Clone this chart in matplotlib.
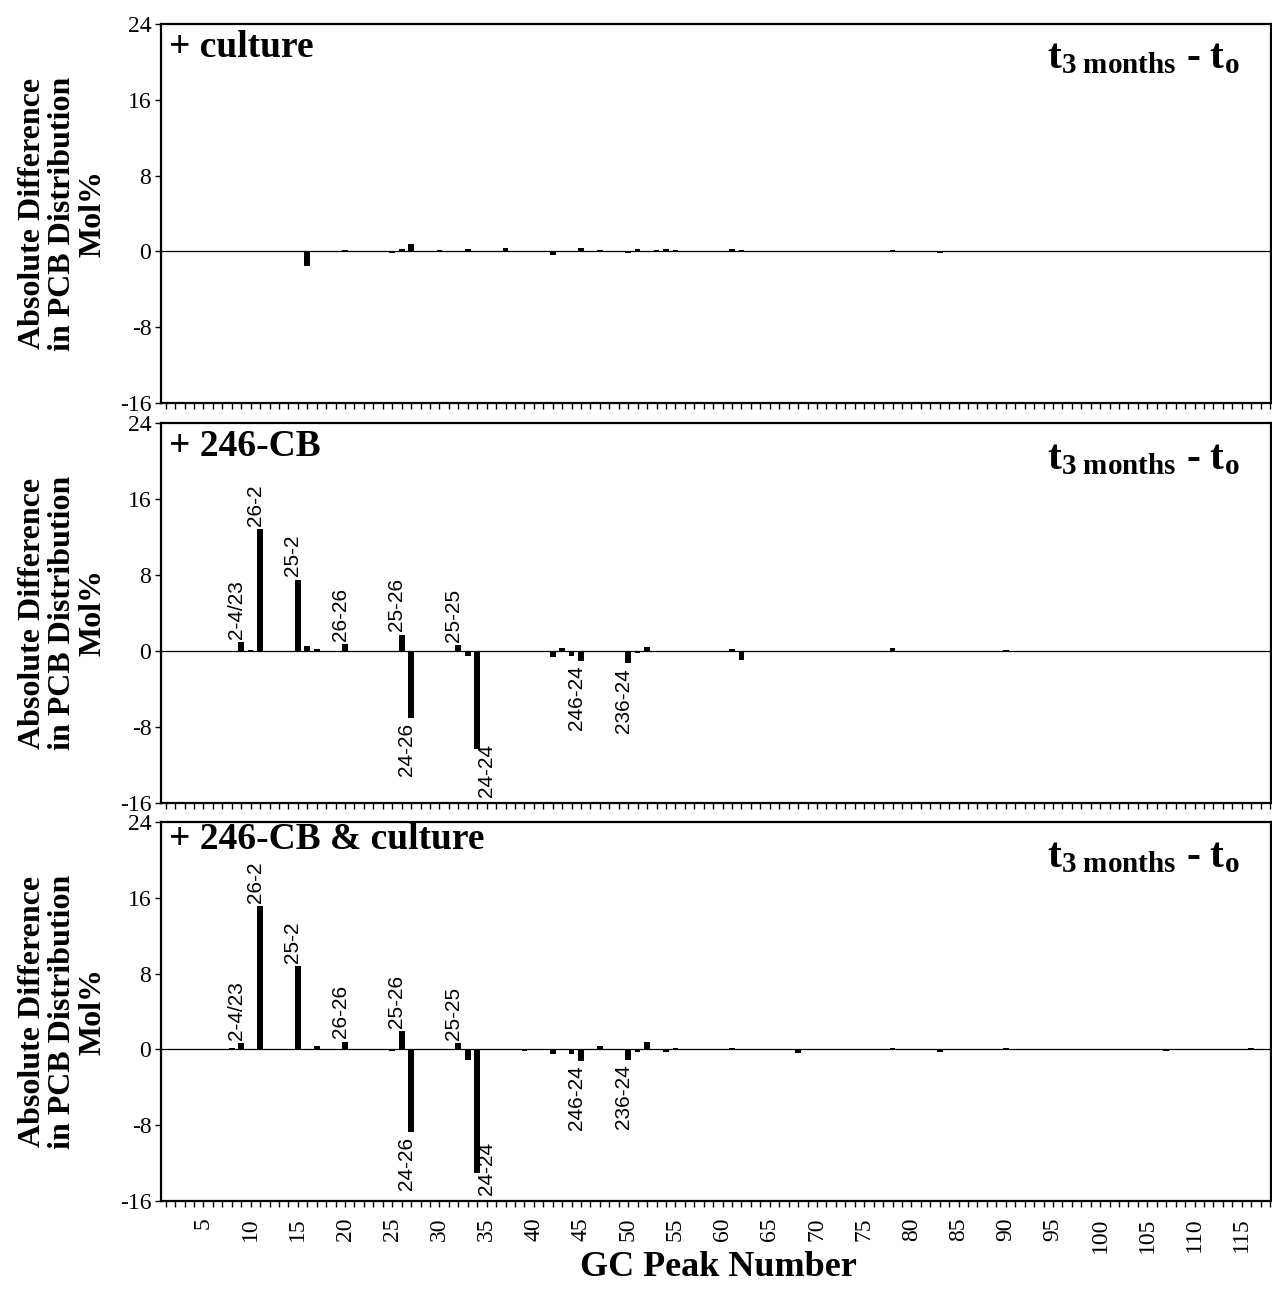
import matplotlib
matplotlib.use("Agg")
import matplotlib.pyplot as plt
from matplotlib.ticker import MultipleLocator, FixedLocator
import numpy as np

# ---------------- data ----------------
panel_titles = ["+ culture", "+ 246-CB", "+ 246-CB & culture"]
diff_label = "$\\mathbf{t}_{\\mathbf{3\\ months}}\\ \\mathbf{\u2010}\\ \\mathbf{t}_{\\mathbf{o}}$"
y_label = "Absolute Difference\nin PCB Distribution\nMol%"
x_label = "GC Peak Number"
y_ticks = [-16, -8, 0, 8, 16, 24]
x_ticks = list(range(5, 116, 5))

culture_peaks = [8, 9, 12, 16, 20, 25, 26, 27, 30, 33, 37, 38, 42, 45, 47, 48, 50, 51,
                 53, 54, 55, 58, 61, 62, 66, 78, 83, 90, 95, 101, 105, 107, 112, 116]
culture_vals = [0.05, 0.05, -0.05, -1.5, 0.15, -0.18, 0.3, 0.75, 0.12, 0.28, 0.35, -0.1,
                -0.35, 0.35, 0.15, -0.1, -0.2, 0.25, 0.2, 0.25, 0.15, 0.05, 0.3, 0.1,
                -0.05, 0.2, -0.2, 0.08, -0.08, -0.1, 0.08, -0.1, 0.05, 0.05]

cb_peaks = [9, 10, 11, 15, 16, 17, 18, 20, 25, 26, 27, 30, 32, 33, 34, 38, 39, 42, 43, 44,
            45, 48, 50, 51, 52, 54, 56, 61, 62, 68, 70, 78, 83, 90, 96, 107]
cb_vals = [0.9, 0.1, 12.8, 7.5, 0.5, 0.25, 0.05, 0.7, -0.1, 1.7, -7.1, 0.05, 0.6, -0.5,
           -10.3, -0.15, -0.15, -0.6, 0.3, -0.5, -1.0, -0.1, -1.3, -0.25, 0.45, -0.15,
           -0.15, 0.2, -0.9, -0.12, -0.1, 0.3, -0.1, 0.15, -0.05, -0.1]

cbc_peaks = [8, 9, 11, 15, 17, 18, 20, 25, 26, 27, 32, 33, 34, 38, 39, 42, 44, 45, 47, 48,
             50, 51, 52, 54, 55, 56, 59, 61, 68, 74, 78, 83, 90, 95, 104, 107, 116]
cbc_vals = [0.1, 0.65, 15.1, 8.8, 0.4, -0.1, 0.8, -0.2, 1.9, -8.7, 0.65, -1.15, -13.0,
            -0.1, -0.12, -0.5, -0.45, -1.2, 0.35, -0.05, -1.1, -0.25, 0.75, -0.25, 0.12,
            -0.05, 0.08, 0.15, -0.35, 0.08, 0.15, -0.25, 0.2, -0.05, -0.05, -0.2, 0.1]

label_peaks = [9, 11, 15, 20, 26, 27, 32, 34, 45, 50]
label_texts = ["2-4/23", "26-2", "25-2", "26-26", "25-26", "24-26", "25-25", "24-24",
               "246-24", "236-24"]

panels = [
    (culture_peaks, culture_vals, False),
    (cb_peaks, cb_vals, True),
    (cbc_peaks, cbc_vals, True),
]

# ---------------- style ----------------
plt.rcParams["font.family"] = ["Liberation Serif", "DejaVu Serif"]
plt.rcParams["mathtext.fontset"] = "custom"
plt.rcParams["mathtext.bf"] = "Liberation Serif:bold"
plt.rcParams["mathtext.rm"] = "Liberation Serif"
plt.rcParams["mathtext.it"] = "Liberation Serif:italic"

W, H = 1272, 1289
fig = plt.figure(figsize=(W / 100, H / 100), dpi=100)

left_px, right_px = 161, 1271
panel_px = [(24, 403), (423, 803), (822, 1201)]
title_y = [0.985, 0.985, 1.0]
diff_y = [0.962, 0.955, 0.958]

label_font = ["Liberation Sans", "DejaVu Sans"]
lab_fs = 15

for i, ((peaks, vals, labelled), (top, bot)) in enumerate(zip(panels, panel_px)):
    ax = fig.add_axes([left_px / W, 1 - bot / H, (right_px - left_px) / W, (bot - top) / H])
    ax.axhline(0, color="black", lw=0.9, zorder=1)
    ax.bar(peaks, vals, width=0.6, color="black", zorder=2)
    ax.set_xlim(0.5, 118.1)
    ax.set_ylim(-16, 24)
    ax.set_yticks(y_ticks)
    ax.set_yticklabels([str(t) for t in y_ticks], fontsize=17)
    ax.xaxis.set_major_locator(FixedLocator(x_ticks))
    ax.xaxis.set_minor_locator(MultipleLocator(1))
    ax.tick_params(axis="y", direction="out", length=4, width=1, pad=3)
    ax.tick_params(axis="x", which="both", direction="out", length=4, width=1)
    if i == 2:
        ax.set_xticklabels([str(t) for t in x_ticks], rotation=90, fontsize=17)
        ax.tick_params(axis="x", pad=8)
    else:
        ax.set_xticklabels([])
    for s in ax.spines.values():
        s.set_linewidth(1.6)

    ax.text(0.007, title_y[i], panel_titles[i], transform=ax.transAxes, ha="left",
            va="top", fontsize=27, fontweight="bold")
    ax.text(0.972, diff_y[i], diff_label, transform=ax.transAxes, ha="right",
            va="top", fontsize=30)

    if labelled:
        lookup = dict(zip(peaks, vals))
        for p, txt in zip(label_peaks, label_texts):
            v = lookup[p]
            if txt == "24-24":
                ax.annotate(txt, xy=(p, -16), xytext=(7, 4), textcoords="offset points",
                            rotation=90, ha="center", va="bottom", fontsize=lab_fs,
                            family=label_font)
            elif v >= 0:
                ax.annotate(txt, xy=(p, v), xytext=(-3.6, 2.5), textcoords="offset points",
                            rotation=90, ha="center", va="bottom", fontsize=lab_fs,
                            family=label_font)
            else:
                ax.annotate(txt, xy=(p, v), xytext=(-3.6, -3.5), textcoords="offset points",
                            rotation=90, ha="center", va="top", fontsize=lab_fs,
                            family=label_font)

    fig.text(63 / W, 1 - (top + bot) / 2 / H, y_label, rotation=90, ha="center",
             va="center", multialignment="center", fontsize=23, fontweight="bold",
             linespacing=1.05)

fig.text(718 / W, 1 - 1268 / H, x_label, ha="center", va="center", fontsize=26,
         fontweight="bold")

fig.savefig("out.png", dpi=100)
